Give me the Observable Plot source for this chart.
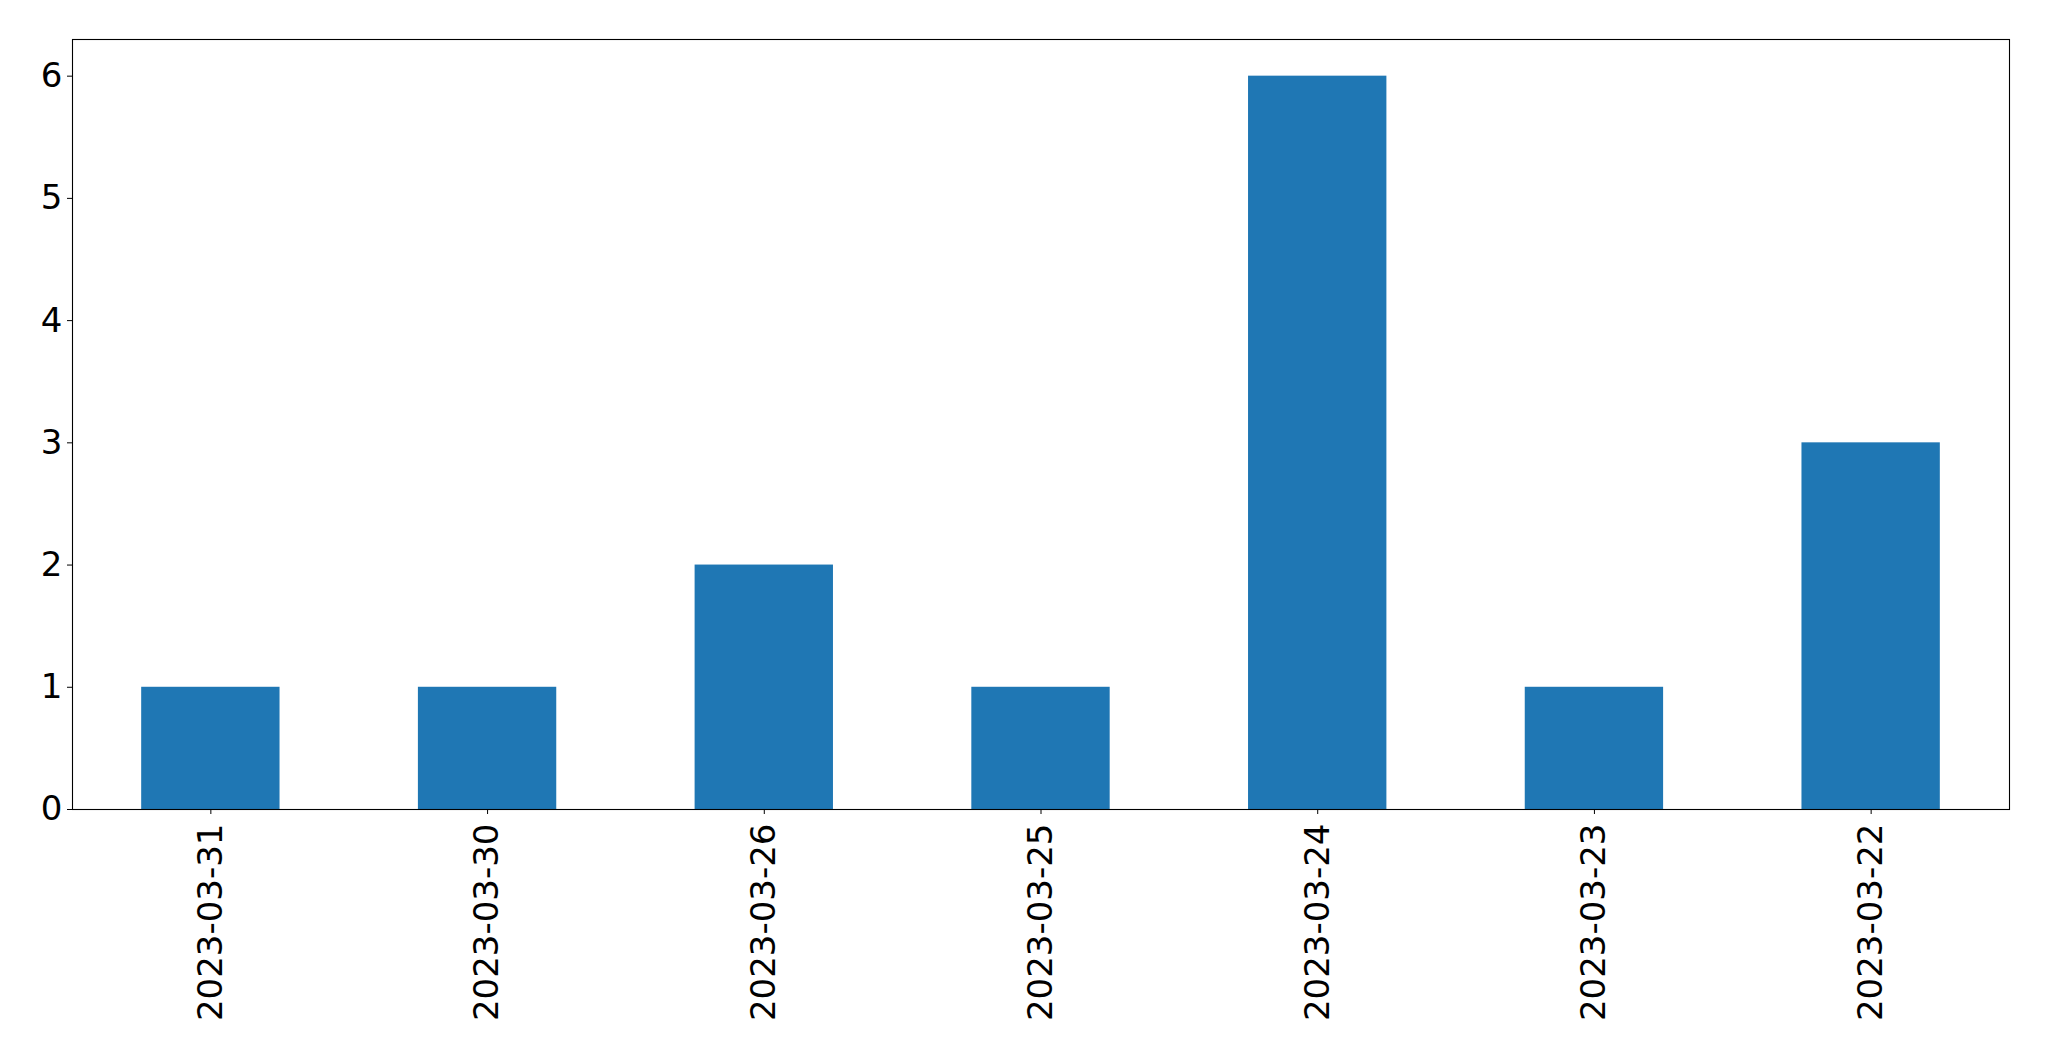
<!DOCTYPE html>
<html>
<head>
<meta charset="utf-8">
<script src="https://cdn.jsdelivr.net/npm/d3@7"></script>
<script src="https://cdn.jsdelivr.net/npm/@observablehq/plot@0.6"></script>
<style>
  html, body { margin: 0; padding: 0; background: #fff; }
  #chart svg { display: block; }
</style>
</head>
<body>
<div id="chart"></div>
<script>
const dates = ["2023-03-31", "2023-03-30", "2023-03-26", "2023-03-25", "2023-03-24", "2023-03-23", "2023-03-22"];
const counts = [1, 1, 2, 1, 6, 1, 3];
const yTicks = [0, 1, 2, 3, 4, 5, 6];

const data = dates.map((d, i) => ({date: d, count: counts[i]}));

const chart = Plot.plot({
  width: 2049,
  height: 1061,
  marginLeft: 72,
  marginRight: 40,
  marginTop: 39,
  marginBottom: 252,
  style: {fontFamily: "DejaVu Sans", color: "#000", background: "#fff"},
  x: {type: "band", domain: dates, paddingInner: 0.5, paddingOuter: 0.25, round: false},
  y: {domain: [0, 6.3]},
  marks: [
    Plot.barY(data, {x: "date", y: "count", fill: "#1f77b4"}),
    Plot.frame({stroke: "#000", strokeWidth: 1.1}),
    Plot.axisX({tickRotate: -90, tickSize: 5, tickPadding: 9, fontSize: 34, label: null, stroke: "#000", fill: "#000"}),
    Plot.axisY({ticks: yTicks, tickFormat: "d", tickSize: 5, tickPadding: 5, fontSize: 34, label: null, stroke: "#000", fill: "#000"})
  ]
});
document.getElementById("chart").appendChild(chart);
</script>
</body>
</html>
